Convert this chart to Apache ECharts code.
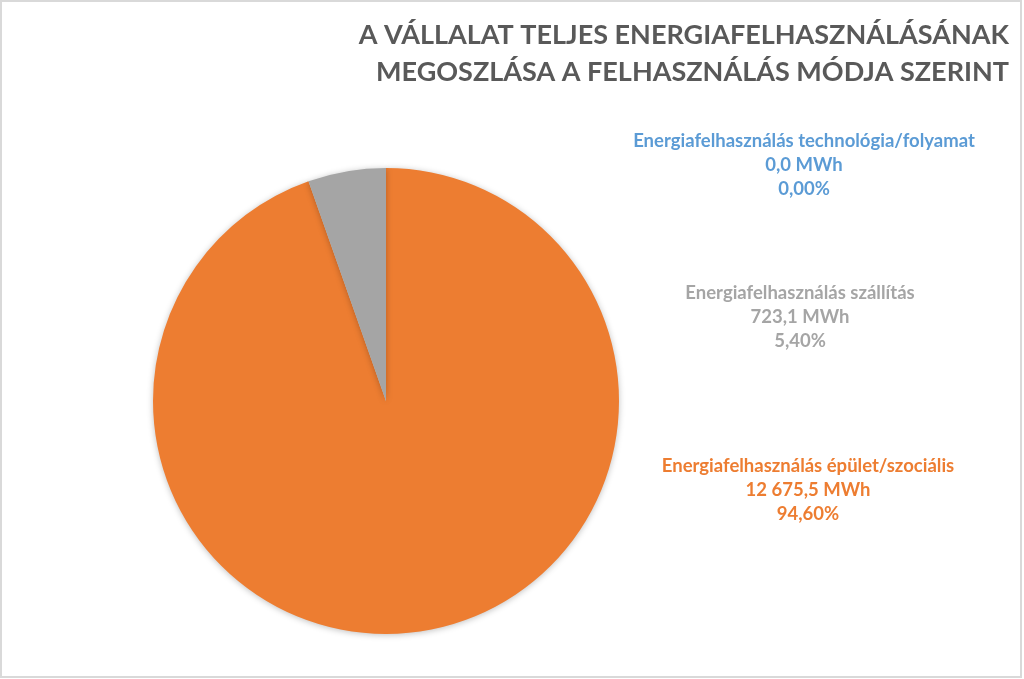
<!DOCTYPE html>
<html><head><meta charset="utf-8">
<script src="https://cdn.jsdelivr.net/npm/echarts@6/dist/echarts.min.js"></script>
<style>html,body{margin:0;padding:0;background:#fff}#c{width:1024px;height:679px}</style>
</head><body><div id="c"></div>
<script>
const titleLines = ['A VÁLLALAT TELJES ENERGIAFELHASZNÁLÁSÁNAK', 'MEGOSZLÁSA A FELHASZNÁLÁS MÓDJA SZERINT'];
const categories = ['Energiafelhasználás épület/szociális', 'Energiafelhasználás szállítás', 'Energiafelhasználás technológia/folyamat'];
const valuesMWh = [12675.5, 723.1, 0.0];
const colors = ['#ED7D31', '#A5A5A5', '#5B9BD5'];
const labelOrder = [2, 1, 0];

const total = valuesMWh.reduce((a, b) => a + b, 0);
function fmtNum(v) {
  const s = v.toFixed(1).split('.');
  const int = s[0].replace(/\B(?=(\d{3})+(?!\d))/g, ' ');
  return int + ',' + s[1];
}
function fmtPct(v) { return (v / total * 100).toFixed(2).replace('.', ',') + '%'; }

const chart = echarts.init(document.getElementById('c'));
const labelPos = [{x: 804, y: 129}, {x: 800, y: 281}, {x: 808, y: 454}];
const graphics = [
  {type: 'rect', shape: {x: 1, y: 1, width: 1020, height: 676}, style: {fill: 'none', stroke: '#d9d9d9', lineWidth: 2}, silent: true},
  {type: 'text', style: {text: titleLines.join('\n'), x: 1009, y: 17, textAlign: 'right', fill: '#595959', font: 'bold 27px Lato', lineHeight: 37}}
];
labelOrder.forEach((idx, i) => {
  graphics.push({type: 'text', style: {
    text: categories[idx] + '\n' + fmtNum(valuesMWh[idx]) + ' MWh\n' + fmtPct(valuesMWh[idx]),
    x: labelPos[i].x, y: labelPos[i].y, textAlign: 'center', fill: colors[idx],
    font: 'bold 18.5px Lato', lineHeight: 24
  }});
});

chart.setOption({
  animation: false,
  graphic: graphics,
  series: [{
    type: 'pie',
    center: [386, 401],
    radius: [0, 233],
    startAngle: 90,
    clockwise: true,
    label: {show: false},
    labelLine: {show: false},
    emphasis: {disabled: true},
    itemStyle: {borderWidth: 0, shadowBlur: 6, shadowColor: 'rgba(0,0,0,0.25)', shadowOffsetY: 1},
    data: categories.map((c, i) => ({name: c, value: valuesMWh[i], itemStyle: {color: colors[i]}}))
  }]
});
</script></body></html>
